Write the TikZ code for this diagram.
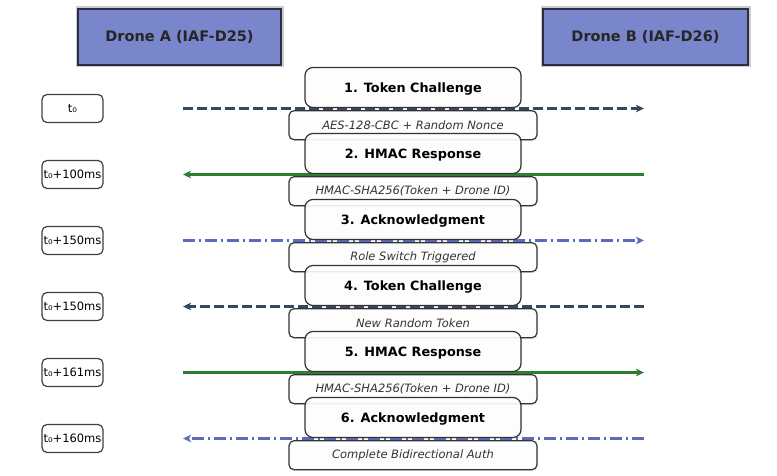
\documentclass[tikz,border=0pt]{standalone}
\usepackage{fontspec}
\setmainfont{DejaVu Sans}[ItalicFont={DejaVu Sans Oblique},BoldFont={DejaVu Sans Bold},BoldItalicFont={DejaVu Sans Bold Oblique}]
\usepackage{xcolor}
\usepackage{tikz}
\usetikzlibrary{positioning, arrows.meta, shadows}

\definecolor{dronefill}{HTML}{7986CB}
\definecolor{droneedge}{HTML}{2B2D42}
\definecolor{slate}{HTML}{34495E}
\definecolor{okgreen}{HTML}{2E7D32}
\definecolor{indigo}{HTML}{5C6BC0}

\begin{document}
\begin{tikzpicture}[
        x=1pt, y=-1pt,
        drone/.style={draw=droneedge, line width=2pt, fill=dronefill, minimum height=56pt, inner sep=0pt, text=black!85, font=\fontsize{14.5}{16}\selectfont\bfseries, preaction={draw=black!20, line width=5pt}},
        timebox/.style={draw=black!75, line width=1.2pt, rounded corners=5pt, fill=white, minimum width=61pt, minimum height=28pt, inner sep=0pt, font=\fontsize{11.5}{13}\selectfont},
        msgtitle/.style={draw=black!80, line width=1.2pt, rounded corners=8pt, fill=white, fill opacity=0.9, text opacity=1, minimum width=216pt, minimum height=40pt, inner sep=0pt, text depth=0pt, font=\fontsize{12.8}{15}\selectfont\bfseries, drop shadow={opacity=0.12, shadow xshift=1pt, shadow yshift=-1.5pt}},
        msgnote/.style={draw=black!80, line width=1.2pt, rounded corners=5pt, fill=white, fill opacity=0.9, text opacity=1, minimum width=248pt, minimum height=29pt, inner sep=0pt, text=black!80, font=\fontsize{11.5}{13}\selectfont\itshape, drop shadow={opacity=0.12, shadow xshift=1pt, shadow yshift=-1.5pt}},
        msg/.style={line width=2.1pt, -{Stealth[length=8pt, width=7.5pt, inset=2pt]}},
        challenge/.style={msg, slate, dash pattern=on 10pt off 4pt},
        response/.style={msg, okgreen},
        ack/.style={msg, indigo, dash pattern=on 12pt off 4pt on 2pt off 4pt}
    ]
    \useasboundingbox (0,0) rectangle (777,476);

    % Drones
    \node[drone, minimum width=203pt] (droneA) at (179.5,37) {Drone A (IAF-D25)};
    \node[drone, minimum width=205pt] (droneB) at (645.5,37) {Drone B (IAF-D26)};

    % Timestamps
    \node[timebox] (time1) at (72.5,108.5) {t₀};
    \node[timebox] (time2) at (72.5,174.5) {t₀+100ms};
    \node[timebox] (time3) at (72.5,240.5) {t₀+150ms};
    \node[timebox] (time4) at (72.5,306.5) {t₀+150ms};
    \node[timebox] (time5) at (72.5,372.5) {t₀+161ms};
    \node[timebox] (time6) at (72.5,438.5) {t₀+160ms};

    % Message line ends
    \coordinate (lft) at (183,0);
    \coordinate (rgt) at (644,0);

    % Messages
    \draw[challenge] (time1 -| lft) -- (time1 -| rgt);
    \draw[response] (time2 -| rgt) -- (time2 -| lft);
    \draw[ack] (time3 -| lft) -- (time3 -| rgt);
    \draw[challenge] (time4 -| rgt) -- (time4 -| lft);
    \draw[response] (time5 -| lft) -- (time5 -| rgt);
    \draw[ack] (time6 -| rgt) -- (time6 -| lft);

    % Message labels
    \node[msgtitle] (msg1) at (413,87.5) {1. Token Challenge};
    \node[msgnote] (note1) [below=2pt of msg1] {AES-128-CBC + Random Nonce};
    \node[msgtitle] (msg2) at (413,153.5) {2. HMAC Response};
    \node[msgnote] (note2) [below=2pt of msg2] {HMAC-SHA256(Token + Drone ID)};
    \node[msgtitle] (msg3) at (413,219.5) {3. Acknowledgment};
    \node[msgnote] (note3) [below=2pt of msg3] {Role Switch Triggered};
    \node[msgtitle] (msg4) at (413,285.5) {4. Token Challenge};
    \node[msgnote] (note4) [below=2pt of msg4] {New Random Token};
    \node[msgtitle] (msg5) at (413,351.5) {5. HMAC Response};
    \node[msgnote] (note5) [below=2pt of msg5] {HMAC-SHA256(Token + Drone ID)};
    \node[msgtitle] (msg6) at (413,417.5) {6. Acknowledgment};
    \node[msgnote] (note6) [below=2pt of msg6] {Complete Bidirectional Auth};

\end{tikzpicture}
\end{document}
